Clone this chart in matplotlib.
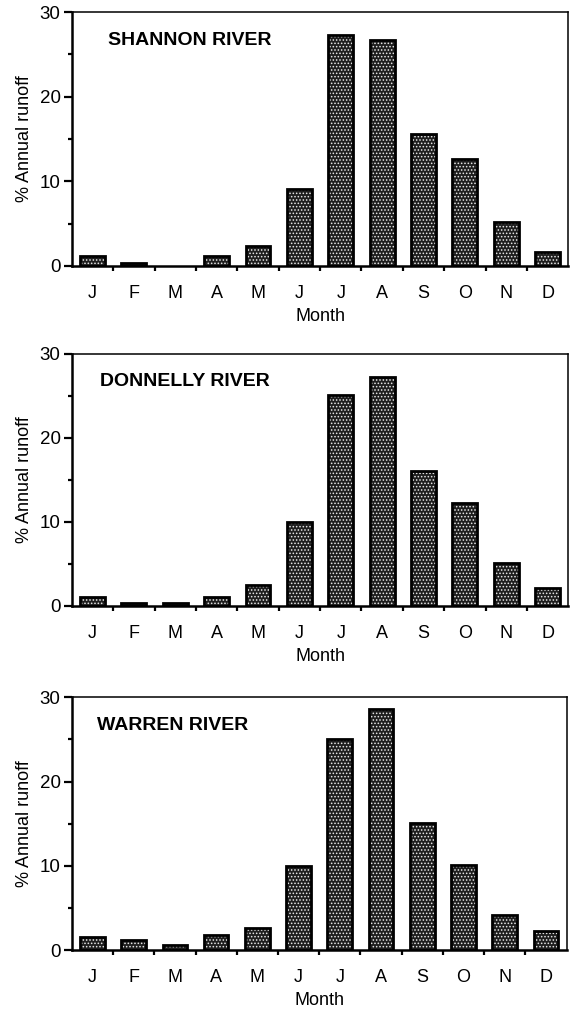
import matplotlib
matplotlib.use('Agg')
import matplotlib.pyplot as plt
import numpy as np

plt.rcParams['font.family'] = ['Liberation Sans', 'DejaVu Sans']
plt.rcParams['hatch.linewidth'] = 0.7

months = ['J', 'F', 'M', 'A', 'M', 'J', 'J', 'A', 'S', 'O', 'N', 'D']
rivers = ['SHANNON RIVER', 'DONNELLY RIVER', 'WARREN RIVER']
shannon = [1.2, 0.4, 0.0, 1.2, 2.3, 9.1, 27.3, 26.7, 15.6, 12.6, 5.2, 1.7]
donnelly = [1.1, 0.4, 0.4, 1.1, 2.5, 10.0, 25.1, 27.2, 16.1, 12.2, 5.1, 2.2]
warren = [1.6, 1.2, 0.6, 1.8, 2.6, 10.0, 25.1, 28.6, 15.1, 10.1, 4.1, 2.3]

# axes boxes in figure fraction [left, bottom, width, height]
boxes = [[0.126, 0.737, 0.871, 0.251],
         [0.126, 0.4006, 0.871, 0.2493],
         [0.126, 0.0603, 0.868, 0.25]]
title_x = [0.073, 0.057, 0.05]

fig = plt.figure(figsize=(5.7, 10.11), dpi=100)
x = np.arange(12)

for i, vals in enumerate([shannon, donnelly, warren]):
    ax = fig.add_axes(boxes[i])
    # no outline for empty months
    edges = ['black' if v > 0 else 'none' for v in vals]
    ax.bar(x, vals, width=0.6, color='#1e1e1e', edgecolor='#e8e8e8',
           hatch='.....', linewidth=0, zorder=2)
    ax.bar(x, vals, width=0.6, fill=False, edgecolor=edges,
           linewidth=2.0, zorder=3)
    ax.set_xlim(-0.5, 11.5)
    ax.set_ylim(0, 30)
    ax.set_yticks([0, 10, 20, 30])
    ax.set_yticks([5, 15, 25], minor=True)
    ax.set_xticks(x)
    ax.set_xticklabels(months)
    ax.set_xticks(np.arange(0.5, 11, 1), minor=True)
    ax.tick_params(axis='x', which='major', length=0, pad=14, labelsize=13)
    ax.tick_params(axis='x', which='minor', length=3.5, width=1.6, direction='out')
    ax.tick_params(axis='y', which='major', length=6, width=1.6, pad=2, labelsize=13.5)
    ax.tick_params(axis='y', which='minor', length=3, width=1.6)
    for side in ['left', 'bottom']:
        ax.spines[side].set_linewidth(1.8)
    for side in ['top', 'right']:
        ax.spines[side].set_linewidth(1.1)
    ax.set_ylabel('% Annual runoff', fontsize=13, labelpad=5)
    ax.set_xlabel('Month', fontsize=13, labelpad=4)
    ax.text(title_x[i], 0.89, rivers[i], transform=ax.transAxes,
            fontsize=14, fontweight='bold', va='center', ha='left')

fig.savefig('out.png', dpi=100)
